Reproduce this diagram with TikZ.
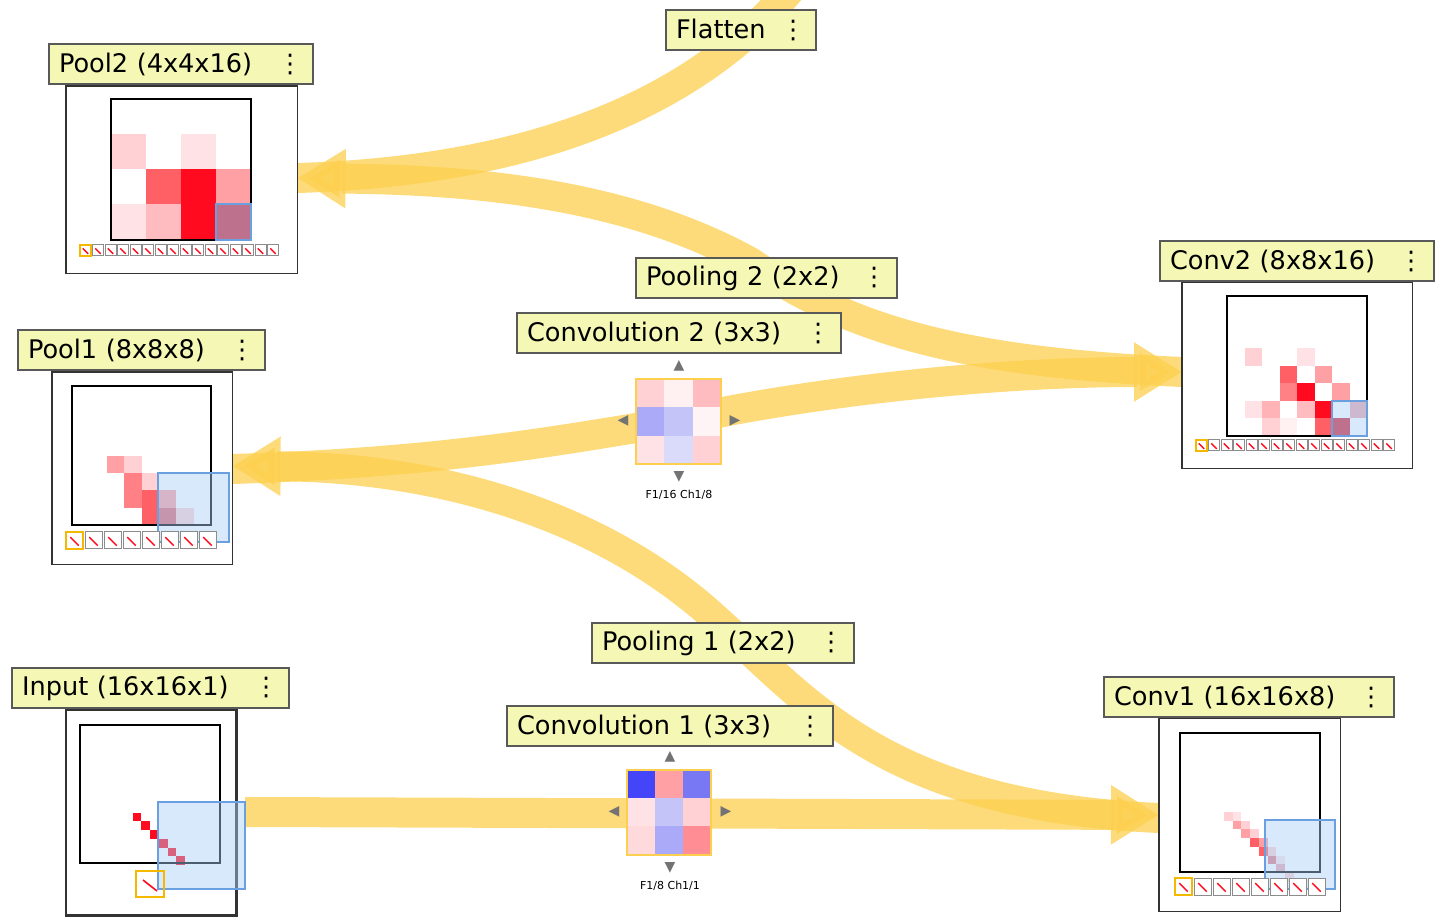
\documentclass[tikz,border=0pt]{standalone}
\usepackage{fontspec}
\newfontfamily\uifont{DejaVu Sans}
\usetikzlibrary{arrows.meta,positioning}
\definecolor{titlefill}{HTML}{F4F8B4}
\definecolor{bandc}{HTML}{FDCF4E}
\definecolor{ovfill}{HTML}{A8CFF5}
\definecolor{ovdraw}{HTML}{6A9FE0}
\definecolor{thumbc}{HTML}{F5B800}
\definecolor{rA}{HTML}{FF0A1E}
\definecolor{rB}{HTML}{FF6066}
\definecolor{rC}{HTML}{FFA0A5}
\definecolor{rD}{HTML}{FFD0D4}
\definecolor{rE}{HTML}{FFE2E5}
\definecolor{rF}{HTML}{D02439}
\definecolor{bA}{HTML}{4444F8}
\definecolor{bB}{HTML}{7878F5}
\definecolor{bC}{HTML}{AAAAF8}
\definecolor{bD}{HTML}{C4C4F8}
\definecolor{bE}{HTML}{DADAFA}
\begin{document}
\begin{tikzpicture}[x=0.5pt,y=-0.5pt,
  title/.style={draw=black!65,line width=1pt,fill=titlefill,font=\uifont\fontsize{12.8}{14}\selectfont,minimum height=20pt,inner xsep=5pt,align=left,anchor=north west},
  panel/.style={draw=black!80,line width=0.8pt,fill=white,inner sep=0pt,anchor=north west},
  band/.style={draw=bandc,opacity=0.75,line width=15pt},
  tip/.style={-{Triangle[length=24pt,width=28pt]}},
  grid/.style={draw=black,line width=0.7pt},
  overlay/.style={fill=ovfill,fill opacity=0.45,draw=ovdraw,line width=1pt},
  nav/.style={font=\uifont\fontsize{7}{7}\selectfont,text=black!55,inner sep=0pt},
  klabel/.style={font=\uifont\fontsize{5.5}{6}\selectfont,inner sep=0pt}]
\useasboundingbox (0,0) rectangle (1456,924);

% layer panels (placed first so bands can end at them)
\path node[panel,minimum width=115pt,minimum height=93pt] (pPool2) at (66,86) {};
\path node[panel,minimum width=89.5pt,minimum height=95.5pt] (pPool1) at (52,372) {};
\path node[panel,minimum width=84pt,minimum height=101.5pt,line width=1.2pt] (pInput) at (66,710) {};
\path node[panel,minimum width=90pt,minimum height=96pt] (pConv1) at (1159,718) {};
\path node[panel,minimum width=114.5pt,minimum height=92.5pt] (pConv2) at (1182,282) {};
\coordinate (flTop) at (790,-10);
\coordinate (k1) at (669,812);
\coordinate (k2) at (679,421);

% data flow bands
\draw[band,tip] (245,812) -- (pConv1.west |- 0,815);
\draw[band,tip] (pConv1.west |- 0,818) .. controls (870,805) and (800,690) .. (700,605)
  .. controls (580,505) and (420,467) .. (pPool1.east |- 0,466);
\draw[band,tip] (pPool1.east |- 0,469) .. controls (450,462) and (560,440) .. (k2)
  .. controls (820,390) and (1000,372) .. (pConv2.west |- 0,372);
\draw[band,tip] (pConv2.west |- 0,372) .. controls (960,362) and (850,330) .. (750,262)
  .. controls (620,190) and (460,180) .. (pPool2.east |- 0,178);
\draw[band] (pPool2.east |- 0,178) .. controls (500,172) and (680,120) .. (flTop);

% redraw panels on top of bands
\foreach \p in {pPool2,pPool1,pInput,pConv1,pConv2}
  \draw[black!80,line width=0.8pt,fill=white] (\p.north west) rectangle (\p.south east);
\draw[black!80,line width=1.2pt] (pInput.north west) rectangle (pInput.south east);

% titles
\node[title,text width=122pt] (tPool2) at (48,43) {Pool2 (4x4x16)\hfill⋮};
\node[title,text width=65pt] (tFlatten) at (665,9) {Flatten\hfill⋮};
\node[title,text width=120.5pt] (tPooling2) at (635,257) {Pooling 2 (2x2)\hfill⋮};
\node[title,text width=152pt] (tConvop2) at (516,312) {Convolution 2 (3x3)\hfill⋮};
\node[title,text width=127pt] (tConv2) at (1159,240) {Conv2 (8x8x16)\hfill⋮};
\node[title,text width=113.5pt] (tPool1) at (17,329) {Pool1 (8x8x8)\hfill⋮};
\node[title,text width=121pt] (tPooling1) at (591,622) {Pooling 1 (2x2)\hfill⋮};
\node[title,text width=153pt] (tConvop1) at (506,705) {Convolution 1 (3x3)\hfill⋮};
\node[title,text width=128.5pt] (tInput) at (11,667) {Input (16x16x1)\hfill⋮};
\node[title,text width=135pt] (tConv1) at (1103,676) {Conv1 (16x16x8)\hfill⋮};

% Pool2 grid 4x4
\foreach \c/\r/\col in {0/1/rD,2/1/rE,1/2/rB,2/2/rA,3/2/rC,0/3/rE,1/3/rC!70,2/3/rA,3/3/rF}
  \fill[\col] (111+35*\c,99+35*\r) rectangle ++(35,35);
\draw[grid] (111,99) rectangle (251,240);
\draw[overlay] (216,204) rectangle (251,240);

% Pool1 grid 8x8
\foreach \c/\r/\col in {2/4/rC,3/4/rD,3/5/rB!80,4/5/rD,3/6/rB!80,4/6/rB,5/6/rC,4/7/rB,5/7/rF!70,6/7/rD}
  \fill[\col] (72+17.4*\c,386+17.4*\r) rectangle ++(17.4,17.4);
\draw[grid] (72,386) rectangle (211,525);
\draw[overlay] (158,473) rectangle (229,542);

% Conv2 grid 8x8
\foreach \c/\r/\col in {1/3/rD,4/3/rE,3/4/rB,5/4/rC,3/5/rB!80,4/5/rA,6/5/rC,1/6/rE,2/6/rC!80,4/6/rC!70,5/6/rA,7/6/rF!40,2/7/rD,3/7/rE!50,5/7/rB,6/7/rF}
  \fill[\col] (1227+17.5*\c,296+17.5*\r) rectangle ++(17.5,17.5);
\draw[grid] (1227,296) rectangle (1367,436);
\draw[overlay] (1332,401) rectangle (1367,436);

% Input grid 16x16
\foreach \i in {0,...,5}
  \fill[rA] (80+8.75*6+8.75*\i,725+8.75*10+8.75*\i) rectangle ++(8.75,8.75);
\draw[grid] (80,725) rectangle (220,863);
\draw[overlay] (158,802) rectangle (245,889);
\draw[thumbc,line width=1pt] (136,871) rectangle (164,897);
\draw[rA,line width=0.8pt] (143,880) -- (157,891);

% Conv1 grid 16x16
\foreach \i/\col in {0/rD,1/rC,2/rC,3/rB,4/rB,5/rF!60,6/rF!40,7/rD}
  \fill[\col] (1180+8.75*5+8.75*\i,733+8.75*9+8.75*\i) rectangle ++(8.75,8.75);
\foreach \i/\col in {0/rE,1/rD,2/rD,3/rC,4/rD,5/rE}
  \fill[\col] (1180+8.75*6+8.75*\i,733+8.75*9+8.75*\i) rectangle ++(8.75,8.75);
\draw[grid] (1180,733) rectangle (1320,872);
\draw[overlay] (1265,820) rectangle (1335,889);

% thumbnail strips
\foreach \x/\y/\s/\n/\p in {80/245/11/16/12.5,1196/440/11/16/12.5,66/532/17/8/19,1175/878/17/8/19}{
  \foreach \k in {1,...,\n}{
    \draw[black!45,line width=0.5pt,fill=white] (\x+\p*\k-\p,\y) rectangle ++(\s,\s);
    \draw[rA,line width=0.7pt] (\x+\p*\k-\p+0.25*\s,\y+0.3*\s) -- ++(0.5*\s,0.5*\s);
  }
  \draw[thumbc,line width=1pt] (\x,\y) rectangle ++(\s,\s);
}

% kernels
\foreach \c/\r/\col in {0/0/bA,1/0/rC,2/0/bB,0/1/rE,1/1/bD,2/1/rD,0/2/rD!80,1/2/bC,2/2/rC!120}
  \fill[\col] (627+28.2*\c,770+28.2*\r) rectangle ++(28.2,28.2);
\draw[bandc,line width=0.6pt] (627,770) rectangle (711,855);
\foreach \c/\r/\col in {0/0/rD,1/0/rE!50,2/0/rC!70,0/1/bC,1/1/bD,2/1/rE!40,0/2/rE,1/2/bE,2/2/rD}
  \fill[\col] (636+28.3*\c,379+28.3*\r) rectangle ++(28.3,28.3);
\draw[bandc,line width=0.6pt] (636,379) rectangle (721,464);

% kernel navigation
\node[nav] (k1u) at (670,757) {▲};
\node[nav] (k1d) at (670,868) {▼};
\node[nav] (k1l) at (614,812) {◀};
\node[nav] (k1r) at (726,812) {▶};
\node[klabel] (k1lab) at (670,886) {F1/8 Ch1/1};
\node[nav] (k2u) at (679,366) {▲};
\node[nav] (k2d) at (679,477) {▼};
\node[nav] (k2l) at (623,421) {◀};
\node[nav] (k2r) at (735,421) {▶};
\node[klabel] (k2lab) at (679,495) {F1/16 Ch1/8};
\end{tikzpicture}
\end{document}
